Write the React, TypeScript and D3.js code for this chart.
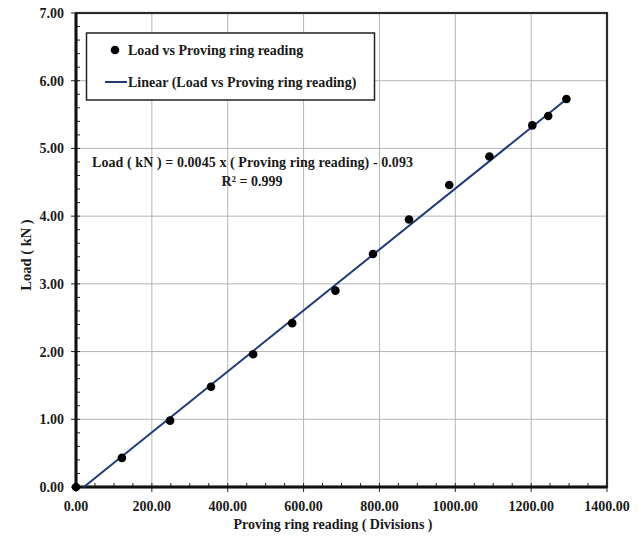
import React from "react";
import * as d3 from "d3";

const readings = [0, 121, 248, 356, 467, 570, 684, 783, 878, 984, 1090, 1203, 1245, 1293];
const loads = [0, 0.43, 0.98, 1.48, 1.96, 2.42, 2.9, 3.44, 3.95, 4.46, 4.88, 5.34, 5.48, 5.73];
const slope = 0.0045;
const intercept = -0.093;
const xTicks = [0, 200, 400, 600, 800, 1000, 1200, 1400];
const yTicks = [0, 1, 2, 3, 4, 5, 6, 7];
const legendLabels = ["Load vs Proving ring reading", "Linear (Load vs Proving ring reading)"];
const equationText = "Load ( kN )  = 0.0045 x ( Proving  ring  reading)  -  0.093";
const r2Text = "R² = 0.999";
const xTitle = "Proving  ring  reading ( Divisions )";
const yTitle = "Load ( kN )";

export default function App() {
  const W = 643, H = 538;
  const L = 76, R = 607, T = 13, B = 487;
  const x = d3.scaleLinear().domain([0, 1400]).range([L, R]);
  const y = d3.scaleLinear().domain([0, 7]).range([B, T]);
  const font = "'Liberation Serif', 'Times New Roman', serif";
  const xMinor = d3.range(0, 1401, 50).filter((v) => v % 200 !== 0);
  const yMinor = d3.range(0, 7.001, 0.2).filter((v) => Math.abs(v - Math.round(v)) > 0.01);
  const xStart = -intercept / slope;
  const xEnd = readings[readings.length - 1];
  const line = d3.line<number>().x((v) => x(v)).y((v) => y(slope * v + intercept));
  const lineColor = "#1f3b78";
  const fs = 14;

  return (
    <svg width={W} height={H} style={{ position: "absolute", left: 0, top: 0, background: "#fff" }} fontFamily={font}>
      {/* grid */}
      {xTicks.slice(1, -1).map((t) => (
        <line key={"gx" + t} x1={x(t)} x2={x(t)} y1={T} y2={B} stroke="#b4b4b4" strokeWidth={1} />
      ))}
      {yTicks.slice(1, -1).map((t) => (
        <line key={"gy" + t} x1={L} x2={R} y1={y(t)} y2={y(t)} stroke="#b4b4b4" strokeWidth={1} />
      ))}
      {/* minor ticks */}
      {xMinor.map((t) => (
        <line key={"mx" + t} x1={x(t)} x2={x(t)} y1={B} y2={B - 4} stroke="#222" strokeWidth={1} />
      ))}
      {yMinor.map((t) => (
        <line key={"my" + t} x1={L} x2={L + 4} y1={y(t)} y2={y(t)} stroke="#222" strokeWidth={1} />
      ))}
      {/* major ticks */}
      {xTicks.map((t) => (
        <line key={"tx" + t} x1={x(t)} x2={x(t)} y1={B - 4} y2={B + 5} stroke="#222" strokeWidth={1} />
      ))}
      {yTicks.map((t) => (
        <line key={"ty" + t} x1={L - 5} x2={L + 4} y1={y(t)} y2={y(t)} stroke="#222" strokeWidth={1} />
      ))}
      {/* frame */}
      <rect x={L} y={T} width={R - L} height={B - T} fill="none" stroke="#2a2a2a" strokeWidth={2.2} />
      <line x1={L} x2={L} y1={T} y2={B} stroke="#111" strokeWidth={3} />
      <line x1={L} x2={R} y1={B} y2={B} stroke="#111" strokeWidth={3} />
      {/* tick labels */}
      {xTicks.map((t) => (
        <text key={"lx" + t} x={x(t)} y={510.5} textAnchor="middle" fontSize={fs} fontWeight="bold" fill="#1a1a1a">
          {t.toFixed(2)}
        </text>
      ))}
      {yTicks.map((t) => (
        <text key={"ly" + t} x={64} y={y(t) + 5} textAnchor="end" fontSize={fs} fontWeight="bold" fill="#1a1a1a">
          {t.toFixed(2)}
        </text>
      ))}
      {/* axis titles */}
      <text x={333} y={529} textAnchor="middle" fontSize={fs} fontWeight="bold" fill="#1a1a1a">{xTitle}</text>
      <text transform={`translate(31,255) rotate(-90)`} textAnchor="middle" fontSize={14.5} fontWeight="bold" fill="#1a1a1a">{yTitle}</text>
      {/* trendline */}
      <path d={line([xStart, xEnd]) || ""} fill="none" stroke={lineColor} strokeWidth={2} />
      {/* points */}
      {readings.map((r, i) => (
        <circle key={"p" + i} cx={x(r)} cy={y(loads[i])} r={4.3} fill="#000" />
      ))}
      {/* equation */}
      <text x={92} y={167} fontSize={fs} fontWeight="bold" fill="#1a1a1a" textLength={321} lengthAdjust="spacing">{equationText}</text>
      <text x={252} y={186} textAnchor="middle" fontSize={fs} fontWeight="bold" fill="#1a1a1a">{r2Text}</text>
      {/* legend */}
      <rect x={86.5} y={33} width={288} height={67} fill="#fff" stroke="#222" strokeWidth={1.5} />
      <circle cx={115} cy={50} r={4.3} fill="#000" />
      <text x={128} y={55} fontSize={fs} fontWeight="bold" fill="#1a1a1a">{legendLabels[0]}</text>
      <line x1={105} x2={127} y1={82} y2={82} stroke={lineColor} strokeWidth={2} />
      <text x={128} y={87} fontSize={fs} fontWeight="bold" fill="#1a1a1a">{legendLabels[1]}</text>
    </svg>
  );
}
